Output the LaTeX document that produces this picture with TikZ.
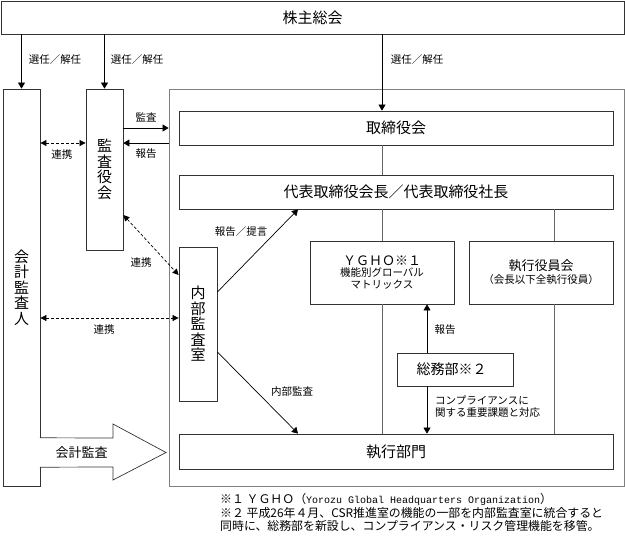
\documentclass[tikz,border=0pt]{standalone}
\usepackage{fontspec}
\setmainfont{Noto Sans CJK JP}
\newfontfamily\monofont{Liberation Mono}
\usetikzlibrary{arrows.meta,calc}
\begin{document}
\begin{tikzpicture}[x=1pt,y=-1pt,
  box/.style={draw=black!80, line width=0.8pt, fill=white, inner sep=0pt, align=center},
  arr/.style={-{Triangle[length=6pt,width=7pt]}, line width=0.7pt},
  dbl/.style={{Triangle[length=6pt,width=6pt]}-{Triangle[length=6pt,width=6pt]}, dash pattern=on 3pt off 2pt, line width=0.7pt},
  lbl/.style={font=\fontsize{10.5}{12}\selectfont, inner sep=0pt, align=left},
  big/.style={font=\fontsize{15}{18}\selectfont},
  vert/.style={font=\fontsize{15}{15.5}\selectfont},
  conn/.style={draw=black!60, line width=0.8pt}
]
\useasboundingbox (0,0) rectangle (625,536);
\node[box, big, minimum width=623pt, minimum height=33pt] (kabu) at (312.5,17.5) {株主総会};
\node[box, vert, minimum width=37pt, minimum height=397pt] (kaikei) at (21.5,287.5) {会\\計\\監\\査\\人};
\node[box, vert, minimum width=37pt, minimum height=161pt] (kansa) at (104.5,169.5) {監\\査\\役\\会};
\node[draw=black!50, line width=0.9pt, minimum width=455pt, minimum height=397pt, inner sep=0pt] (outer) at (396.5,287.5) {};
\node[box, big, minimum width=434pt, minimum height=34pt] (tori) at (396,128) {取締役会};
\node[box, big, minimum width=434pt, minimum height=34pt] (daihyo) at (396,192) {代表取締役会長／代表取締役社長};
\node[box, minimum width=144pt, minimum height=63pt] (ygho) at (382,272.5) {{\fontsize{13}{15}\selectfont ＹＧＨＯ※１}\\[-1pt]{\fontsize{10.5}{13.5}\selectfont 機能別グローバル}\\{\fontsize{10.5}{13.5}\selectfont マトリックス}};
\node[box, minimum width=144pt, minimum height=63pt] (yakuin) at (541,272.5) {{\fontsize{13}{15}\selectfont 執行役員会}\\[1pt]{\fontsize{10.5}{12}\selectfont （会長以下全執行役員）}};
\node[box, vert, minimum width=38pt, minimum height=154pt] (naibu) at (198,324) {内\\部\\監\\査\\室};
\node[box, font=\fontsize{14}{16}\selectfont, minimum width=116pt, minimum height=33pt] (somu) at (455,369.5) {総務部※２\hspace{7pt}};
\node[box, big, minimum width=434pt, minimum height=35pt] (bumon) at (396,451.5) {執行部門};

% election arrows
\draw[arr] (kaikei.north |- kabu.south) -- (kaikei.north);
\draw[arr] (kansa.north |- kabu.south) -- (kansa.north);
\draw[arr] (kabu.south -| 382,0) -- (tori.north -| 382,0);
\node[lbl] (s1) at (55,60) {選任／解任};
\node[lbl] (s2) at (137,60) {選任／解任};
\node[lbl] (s3) at (417,60) {選任／解任};

% audit board <-> board
\draw[arr] (kansa.east |- 0,128) -- (outer.west |- 0,128);
\draw[arr] (outer.west |- 0,143) -- (kansa.east |- 0,143);
\node[lbl] (m1) at (146,117) {監査};
\node[lbl] (m2) at (146,154) {報告};

% cooperation
\draw[dbl] (kaikei.east |- 0,143) -- (kansa.west |- 0,143);
\node[lbl] (r1) at (62,155) {連携};
\draw[dbl] (kansa.east |- 0,215) -- (naibu.west |- 0,275);
\node[lbl] (r2) at (141,263) {連携};
\draw[dbl] (kaikei.east |- 0,318) -- (naibu.west |- 0,318);
\node[lbl] (r3) at (104,330) {連携};

% internal audit
\draw[arr] (naibu.east |- 0,292) -- (daihyo.south -| 298,0);
\node[lbl] (h1) at (241,232) {報告／提言};
\draw[arr] (naibu.east |- 0,352) -- (bumon.north -| 298,0);
\node[lbl] (h2) at (292,392) {内部監査};

% org lines
\draw[conn] (tori.south -| 382,0) -- (daihyo.north -| 382,0);
\draw[conn] (daihyo.south -| 382,0) -- (ygho.north);
\draw[conn] (ygho.south) -- (bumon.north -| 382,0);
\draw[conn] (daihyo.south -| 554,0) -- (yakuin.north -| 554,0);
\draw[conn] (yakuin.south -| 554,0) -- (bumon.north -| 554,0);

% general affairs
\draw[arr] (somu.north -| 427,0) -- (ygho.south -| 427,0);
\node[lbl] (h3) at (445,330) {報告};
\draw[arr] (somu.south -| 427,0) -- (bumon.north -| 427,0);
\node[lbl, anchor=west] (h4) at (435,407) {コンプライアンスに\\関する重要課題と対応};

% accounting audit block arrow
\node[fill=white, minimum width=73pt, minimum height=29pt, inner sep=0pt, font=\fontsize{13}{15}\selectfont] (ka) at (76.5,452.5) {\hspace{10pt}会計監査};
\draw[line width=0.7pt, draw=black!80] (ka.north west) -- (113,438) -- (113,424) -- (166,452.5) -- (113,480) -- (113,467) -- (ka.south west);

% footnotes
\node[anchor=west, font=\fontsize{11.9}{13.5}\selectfont, inner sep=0pt] (fn1) at (220,499) {※１ ＹＧＨＯ（{\monofont\fontsize{10}{12}\selectfont Yorozu Global Headquarters Organization}）};
\node[anchor=west, font=\fontsize{11.9}{13.5}\selectfont, inner sep=0pt] (fn2) at (220,512.5) {※２ 平成26年４月、CSR推進室の機能の一部を内部監査室に統合すると};
\node[anchor=west, font=\fontsize{11.9}{13.5}\selectfont, inner sep=0pt] (fn3) at (220,526) {同時に、総務部を新設し、コンプライアンス・リスク管理機能を移管。};
\end{tikzpicture}
\end{document}
